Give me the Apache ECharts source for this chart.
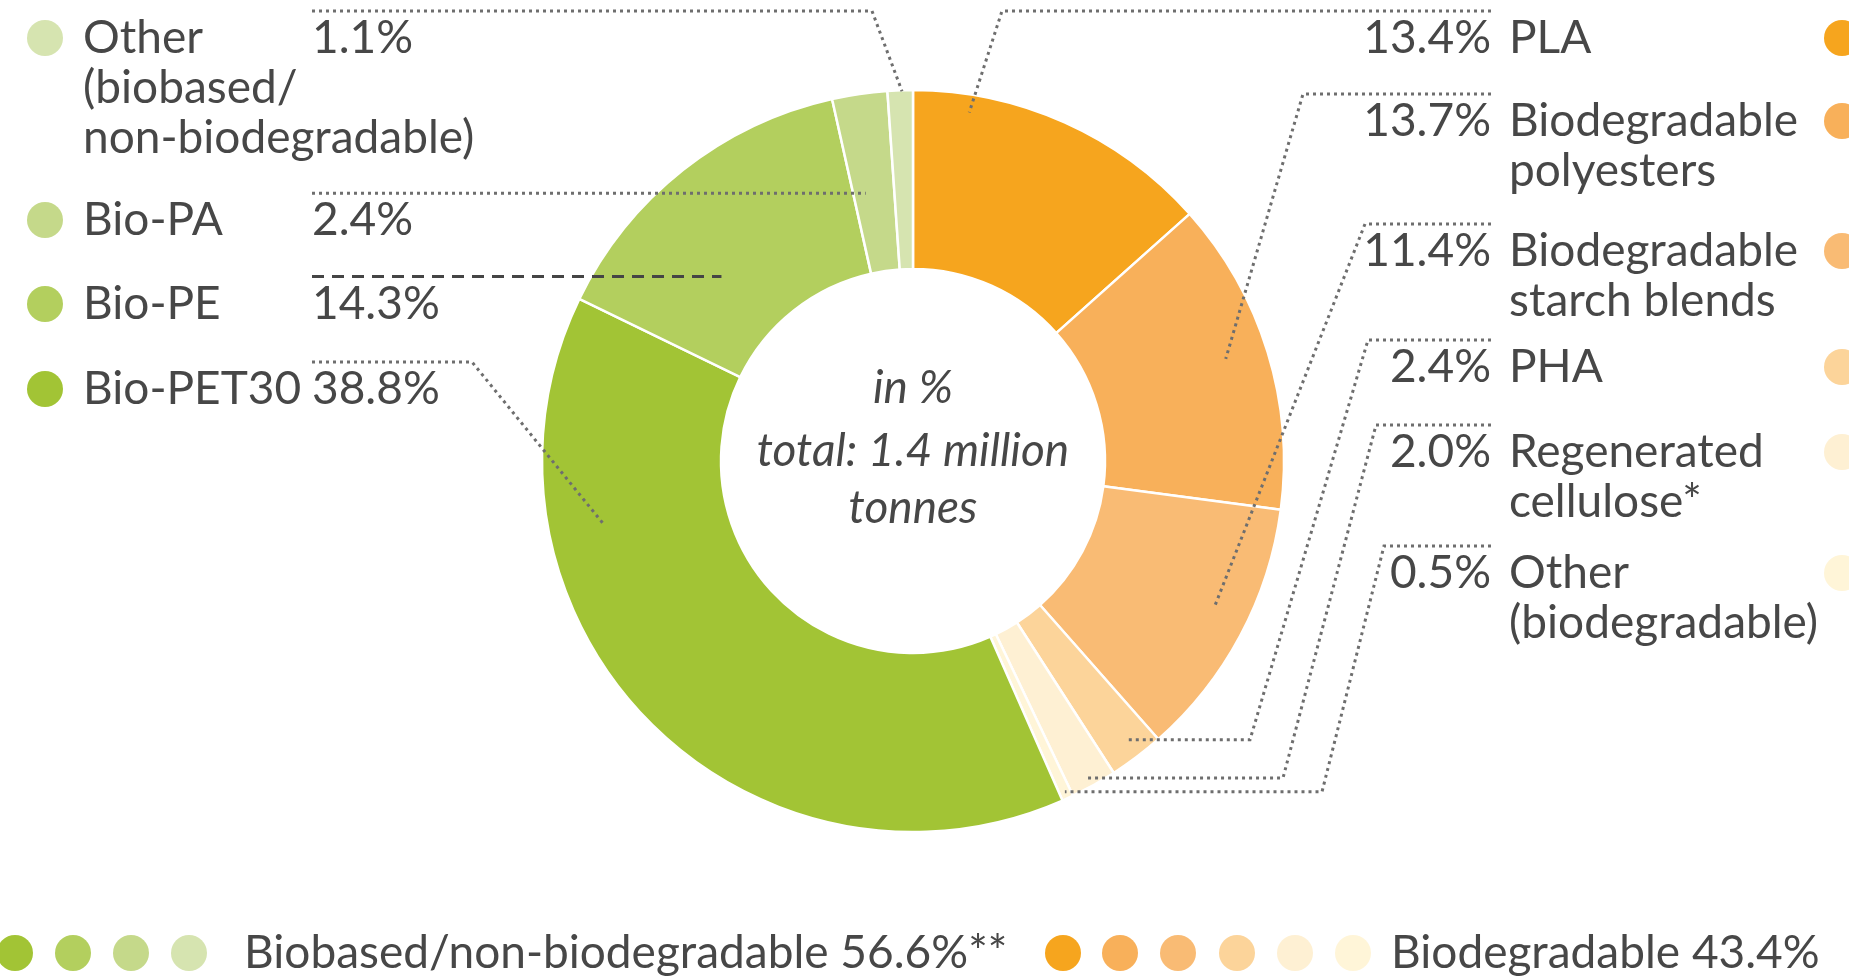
<!DOCTYPE html>
<html><head><meta charset="utf-8">
<script src="https://cdn.jsdelivr.net/npm/echarts@6/dist/echarts.min.js"></script>
<style>html,body{margin:0;padding:0;background:#fff}#c{width:1849px;height:980px}</style>
</head><body><div id="c"></div>
<script>
// ---------- DATA ----------
const biodegNames = ['PLA', 'Biodegradable\npolyesters', 'Biodegradable\nstarch blends', 'PHA', 'Regenerated\ncellulose*', 'Other\n(biodegradable)'];
const biodegValues = [13.4, 13.7, 11.4, 2.4, 2.0, 0.5];
const biobasedNames = ['Bio-PET30', 'Bio-PE', 'Bio-PA', 'Other\n(biobased/\nnon-biodegradable)'];
const biobasedValues = [38.8, 14.3, 2.4, 1.1];
const biodegColors = ['#F6A51E', '#F8B05A', '#F9BB74', '#FCD49A', '#FEF0D3', '#FFF5D8'];
const biobasedColors = ['#A2C435', '#B3CF5E', '#C5D98A', '#D6E4B0'];
const groupLabels = ['Biobased/non-biodegradable 56.6%**', 'Biodegradable 43.4%'];
const centerLines = ['in %', 'total: 1.4 million', 'tonnes'];

// ---------- LAYOUT ----------
const W = 1849, H = 980;
const CX = 913, CY = 461, R0 = 192, R1 = 371;
const FONT = '46px Lato', IFONT = 'italic 46px Lato', TXT = '#474747';
const LH = 50;
const rightRowY = [38, 121, 251, 367, 452, 573];      // biodegradable rows
const leftRowY = [389, 304, 220, 38];                 // biobased rows (PET30, PE, PA, Other)
const rightPctX = 1491, rightNameX = 1509, rightMarkX = 1842;
const leftNameX = 83, leftPctX = 312, leftMarkX = 45, markR = 18;
// leader line geometry: t = fraction through slice angle, r = radius of anchor, bends: label-side points
const leaderCfg = [
  {t: 0.19, r: 353, bends: [[1002, 'L']]},
  {t: 0.48, r: 329, bends: [[1303, 'L']]},
  {t: 0.45, r: 335, bends: [[1365, 'L']]},
  {t: 0.46, r: 351, bends: [[1368, 'L'], [1250, 'A']]},
  {t: 0.54, r: 362, bends: [[1376, 'L'], [1283, 'A']]},
  {t: 0.50, r: 364, bends: [[1384, 'L'], [1322, 'A']]},
  {t: 0.73, r: 315, bends: [[472, 'L']]},
  {t: 0.35, r: 266, bends: [], dashed: true},
  {t: 0.30, r: 272, bends: []},
  {t: 0.57, r: 370, bends: [[872, 'L']]}
];

// ---------- BUILD ----------
const names = biodegNames.concat(biobasedNames);
const values = biodegValues.concat(biobasedValues);
const colors = biodegColors.concat(biobasedColors);
const total = values.reduce((a, b) => a + b, 0);
const pieData = names.map((n, i) => ({name: n, value: values[i], itemStyle: {color: colors[i]}}));

let acc = 0;
const spans = values.map(v => { const s = acc / total * 360; acc += v; return [s, acc / total * 360]; });
function slicePoint(i, t, r) {
  const a = (spans[i][0] + (spans[i][1] - spans[i][0]) * t) * Math.PI / 180;
  return [CX + r * Math.sin(a), CY - r * Math.cos(a)];
}
function fmt(v) { return v.toFixed(1) + '%'; }

const g = [];
function text(x, y, s, align, font) {
  g.push({type: 'text', z: 100, x: x, y: y, silent: true,
    style: {legacy: false, text: s, font: font || FONT, fill: TXT, align: align || 'left', verticalAlign: 'middle', lineHeight: LH}});
}
function circle(x, y, c) {
  g.push({type: 'circle', z: 100, silent: true, shape: {cx: x, cy: y, r: markR}, style: {fill: c}});
}

// right labels (biodegradable)
biodegNames.forEach((n, i) => {
  const y = rightRowY[i];
  text(rightPctX, y, fmt(biodegValues[i]), 'right');
  n.split('\n').forEach((ln, k) => text(rightNameX, y + k * LH, ln, 'left'));
  circle(rightMarkX, y, biodegColors[i]);
});
// left labels (biobased)
biobasedNames.forEach((n, i) => {
  const y = leftRowY[i];
  text(leftPctX, y, fmt(biobasedValues[i]), 'left');
  n.split('\n').forEach((ln, k) => text(leftNameX, y + k * LH, ln, 'left'));
  circle(leftMarkX, y, biobasedColors[i]);
});
// leader lines
leaderCfg.forEach((c, i) => {
  const isRight = i < biodegNames.length;
  const rowY = isRight ? rightRowY[i] : leftRowY[i - biodegNames.length];
  const A = slicePoint(i, c.t, c.r);
  const ly = c.bends.length ? rowY - 27 : A[1];
  const pts = [[isRight ? rightPctX : leftPctX, ly]];
  c.bends.forEach(b => pts.push([b[0], b[1] === 'L' ? ly : A[1]]));
  pts.push(A);
  g.push({type: 'polyline', z: 90, silent: true, shape: {points: pts},
    style: c.dashed ? {stroke: '#454545', lineWidth: 3, lineDash: [12, 8], fill: null}
                    : {stroke: '#6e6e6e', lineWidth: 3, lineDash: [3, 4], fill: null}});
});
// center text
text(CX, 388, centerLines[0], 'center', IFONT);
text(CX, 451, centerLines[1], 'center', IFONT);
text(CX, 508, centerLines[2], 'center', IFONT);
// bottom group legend
const botY = 953;
[15, 73, 131, 189].forEach((x, i) => circle(x, botY, biobasedColors[i]));
text(244, botY, groupLabels[0], 'left');
[1063, 1120, 1178, 1237, 1295, 1353].forEach((x, i) => circle(x, botY, biodegColors[i]));
text(1391, botY, groupLabels[1], 'left');

const chart = echarts.init(document.getElementById('c'), null, {renderer: 'canvas', width: W, height: H});
chart.setOption({
  backgroundColor: '#ffffff',
  animation: false,
  series: [{
    type: 'pie',
    center: [CX, CY],
    radius: [R0, R1],
    startAngle: 90,
    clockwise: true,
    silent: true,
    label: {show: false},
    labelLine: {show: false},
    emphasis: {disabled: true},
    itemStyle: {borderColor: '#ffffff', borderWidth: 2.5},
    data: pieData
  }],
  graphic: {elements: g}
});
</script></body></html>
